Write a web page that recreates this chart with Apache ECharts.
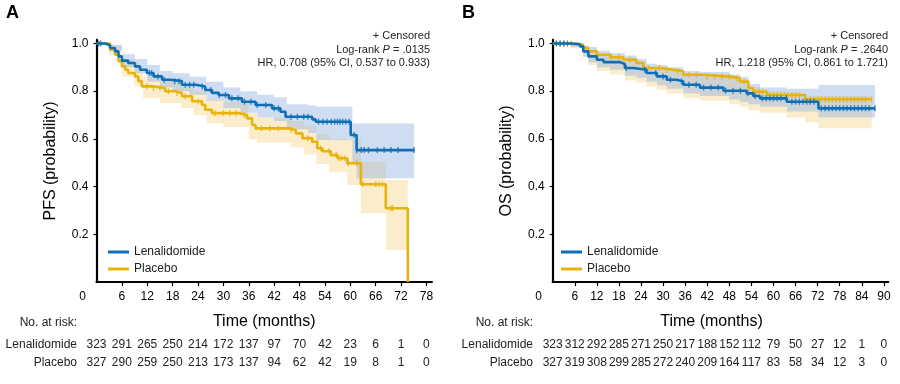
<!DOCTYPE html>
<html><head><meta charset="utf-8">
<script src="https://cdn.jsdelivr.net/npm/echarts@6/dist/echarts.min.js"></script>
<style>html,body{margin:0;padding:0;background:#fff}#c{width:900px;height:384px}</style>
</head><body><div id="c"></div>
<script>
// ---------- tick labels / months ----------
const monthsA = [0,6,12,18,24,30,36,42,48,54,60,66,72,78];
const monthsB = [0,6,12,18,24,30,36,42,48,54,60,66,72,78,84,90];
const yTicks = [0.2,0.4,0.6,0.8,1.0];
const groupNames = ['Lenalidomide', 'Placebo'];

// ---------- numbers at risk ----------
const riskA_lena = [323,291,265,250,214,172,137,97,70,42,23,6,1,0];
const riskA_plac = [327,290,259,250,213,173,137,94,62,42,19,8,1,0];
const riskB_lena = [323,312,292,285,271,250,217,188,152,112,79,50,27,12,1,0];
const riskB_plac = [327,319,308,299,285,272,240,209,164,117,83,58,34,12,3,0];

// ---------- PFS step curves [month, survival after step] ----------
const pfsLena = [[0,1.0],[2,0.993],[3.2,0.981],[4.4,0.967],[5.2,0.946],[6,0.928],[7.5,0.918],[9.1,0.904],[10.3,0.89],[11.9,0.876],[13.5,0.862],[15.5,0.848],[17.4,0.842],[20.2,0.827],[23.4,0.82],[25.7,0.805],[27.3,0.793],[28.9,0.784],[31.3,0.77],[34.4,0.756],[37.6,0.742],[41.5,0.728],[43.5,0.714],[44.7,0.693],[51,0.682],[51.8,0.672],[60.1,0.616],[61.5,0.553],[75.1,0.553]];
const pfsPlac = [[0,1.0],[3.2,0.974],[4.4,0.953],[5.2,0.925],[6,0.904],[6.8,0.89],[7.5,0.876],[9.1,0.862],[9.9,0.842],[10.7,0.82],[13.1,0.813],[16.2,0.80],[18.6,0.792],[20.2,0.779],[22.6,0.758],[24.9,0.743],[25.7,0.722],[27.3,0.708],[33.6,0.70],[35.6,0.686],[36.8,0.658],[37.6,0.644],[45.5,0.637],[47.1,0.623],[48.7,0.603],[51,0.588],[52.2,0.561],[53.4,0.548],[55.4,0.532],[57,0.519],[59.3,0.498],[62.5,0.41],[68.4,0.309],[73.6,0]];
// PFS confidence bands [month, lower, upper]
const pfsLenaCI = [[0,1,1],[3,0.97,0.995],[6,0.90,0.955],[9,0.875,0.935],[12,0.84,0.91],[15,0.815,0.885],[18,0.80,0.875],[22,0.785,0.86],[26,0.76,0.84],[30,0.73,0.815],[34,0.71,0.80],[38,0.69,0.785],[42,0.675,0.775],[45,0.64,0.745],[50,0.625,0.74],[52,0.595,0.735],[60.5,0.50,0.665],[61.5,0.435,0.665],[75.1,0.435,0.665]];
const pfsPlacCI = [[0,1,1],[3,0.95,0.99],[6,0.86,0.935],[9,0.82,0.90],[11,0.77,0.86],[15,0.75,0.84],[20,0.73,0.82],[23,0.70,0.80],[26,0.665,0.765],[30,0.65,0.755],[36,0.60,0.71],[38,0.585,0.69],[46,0.565,0.675],[49,0.535,0.655],[52,0.495,0.62],[55,0.46,0.60],[59.3,0.407,0.595],[62.5,0.288,0.504],[68.4,0.134,0.428],[73.6,0.134,0.428]];
// PFS censor times (months)
const pfsLenaCens = [0.5,1,12.5,13,14.5,16,18.5,19.5,21,22,23,25,27,29,30.5,32,33.5,35,36.5,38,40,42,43,46,47.5,49,50,52.5,53.5,54.5,55.5,56.3,57,57.6,58.2,58.9,59.7,60.9,61.5,62.6,63.3,64.3,66.4,68,69.6,71.3,75.1];
const pfsPlacCens = [12,13.5,15,17,19,21,24,28,30,31.5,33,35,39,41,43,46,50,53,55,56.7,57.2,57.8,58.7,59.5,61.5,63,66,66.8,67.6,69.6,70];

// ---------- OS step curves ----------
const osLena = [[0,1],[4.7,0.997],[7.4,0.988],[8.3,0.967],[9.7,0.946],[12,0.932],[13.8,0.922],[18.3,0.914],[19.6,0.897],[21.9,0.89],[25.5,0.876],[28.3,0.862],[31,0.848],[33.7,0.841],[35.5,0.827],[40,0.815],[46.4,0.802],[52.7,0.791],[54.5,0.78],[56.3,0.77],[63.6,0.756],[72.2,0.728],[87.6,0.728]];
const osPlac = [[0,1],[6.5,0.995],[8.3,0.981],[9.7,0.967],[12,0.953],[15.6,0.942],[19.2,0.932],[22.8,0.918],[24.6,0.897],[29.2,0.89],[32.8,0.883],[35.5,0.869],[40.9,0.861],[48.2,0.854],[50.9,0.84],[53.2,0.812],[54.5,0.798],[58.2,0.784],[68.6,0.766],[86.7,0.766]];
const osLenaCI = [[0,1,1],[5,0.985,1.0],[8.3,0.945,0.99],[9.7,0.92,0.985],[12,0.90,0.97],[15.6,0.89,0.96],[19.6,0.865,0.95],[22.8,0.855,0.935],[25.5,0.84,0.915],[28.3,0.825,0.91],[31,0.81,0.90],[35.5,0.79,0.885],[40,0.78,0.88],[48,0.765,0.87],[50.9,0.755,0.86],[53.2,0.745,0.83],[56.3,0.735,0.815],[63.6,0.715,0.81],[72.2,0.69,0.826],[87.6,0.69,0.826]];
const osPlacCI = [[0,1,1],[5,0.98,1.0],[8.3,0.94,0.99],[9.7,0.91,0.975],[12,0.885,0.96],[15.6,0.87,0.95],[19.6,0.845,0.94],[22.8,0.835,0.925],[25.5,0.82,0.90],[28.3,0.805,0.895],[31,0.79,0.89],[35.5,0.77,0.875],[40,0.76,0.87],[48,0.745,0.86],[50.9,0.735,0.85],[53.2,0.72,0.82],[56.3,0.71,0.80],[63.6,0.69,0.79],[68.6,0.67,0.78],[72.2,0.645,0.78],[86.7,0.645,0.78]];
const osLenaCens = [1,2,3,4,20,25,28,30,32,35,37,39,41,43,45,47,49,51,53,55,57,58,59,60,61,62,63.5,65,66,67,68,69,70,71,73,74,75,76,77,78,79,80,81,82,83,84,85,86,87.6];
const osPlacCens = [1,2,3,5,16,18,21,26,29,31,34,37,39,42,44,46,48,50,52,56,57,59,60,61,62,63,64,65,66,67,70,71,72,73,74,75,76,77,78,79,80,81,82,83,84,85,86.7];

// ---------- styling ----------
const FONT = 'Liberation Sans, Arial, sans-serif';
const BLUE = '#0f6fb6', YELLOW = '#e8b30c';
const BLUE_BAND = 'rgba(140,175,225,0.42)', YELLOW_BAND = 'rgba(245,212,130,0.42)';

function survAt(curve, t) {
  let s = curve[0][1];
  for (const p of curve) { if (p[0] <= t) s = p[1]; else break; }
  return s;
}
function bandSeries(ci, xi, yi, color) {
  return {
    type: 'custom', xAxisIndex: xi, yAxisIndex: yi, data: ci, silent: true, clip: true, z: 1,
    renderItem: function (params, api) {
      if (params.dataIndex !== 0) return null;
      const top = [], bot = [];
      for (let i = 0; i < ci.length; i++) {
        const t0 = ci[i][0], t1 = i + 1 < ci.length ? ci[i + 1][0] : ci[i][0];
        top.push(api.coord([t0, ci[i][2]]), api.coord([t1, ci[i][2]]));
        bot.push(api.coord([t0, ci[i][1]]), api.coord([t1, ci[i][1]]));
      }
      return { type: 'polygon', shape: { points: top.concat(bot.reverse()) }, style: { fill: color } };
    }
  };
}
function lineSeries(name, curve, xi, yi, color, z) {
  return { type: 'line', name: name, xAxisIndex: xi, yAxisIndex: yi, data: curve, step: 'end',
    showSymbol: false, symbol: 'none', lineStyle: { width: 2.6, color: color }, itemStyle: { color: color },
    z: z, silent: true };
}
function censorSeries(curve, times, xi, yi, color, z) {
  return { type: 'scatter', name: 'cens', xAxisIndex: xi, yAxisIndex: yi,
    data: times.map(t => [t, survAt(curve, t)]), symbol: 'rect', symbolSize: [1.4, 6],
    itemStyle: { color: color }, z: z, silent: true };
}
function mainX(grid, max, months, namePad) {
  return { type: 'value', gridIndex: grid, min: 0, max: max, position: 'bottom',
    splitLine: { show: false },
    axisLine: { show: true, onZero: false, lineStyle: { color: '#000', width: 2.2 } },
    axisTick: { show: true, customValues: months.slice(1), length: 4, lineStyle: { color: '#000', width: 1.2 } },
    axisLabel: { customValues: months, margin: 9, fontSize: 12, color: '#000', fontFamily: FONT,
      formatter: v => v === 0 ? '{z|0}' : String(v),
      rich: { z: { padding: [0, 28, 0, 0], fontSize: 12, color: '#000', fontFamily: FONT } } },
    name: 'Time (months)', nameLocation: 'middle', nameGap: 32,
    nameTextStyle: { fontSize: 16, color: '#000', fontFamily: FONT, padding: namePad }
  };
}
function riskX(grid, max, months, risk, offset) {
  return { type: 'value', gridIndex: grid, min: 0, max: max, position: 'bottom', offset: offset,
    splitLine: { show: false }, axisLine: { show: false }, axisTick: { show: false },
    axisLabel: { customValues: months, margin: 0, verticalAlign: 'middle', fontSize: 12, color: '#222', fontFamily: FONT,
      formatter: v => String(risk[Math.round(v / 6)]) }
  };
}
function mainY(grid, name) {
  return { type: 'value', gridIndex: grid, min: 0, max: 1.015,
    splitLine: { show: false },
    axisLine: { show: true, onZero: false, lineStyle: { color: '#000', width: 2.2 } },
    axisTick: { show: true, customValues: yTicks, length: 3, lineStyle: { color: '#000', width: 1.2 } },
    axisLabel: { customValues: yTicks, margin: 8, fontSize: 12, color: '#000', fontFamily: FONT, formatter: v => v.toFixed(1) },
    name: name, nameLocation: 'middle', nameGap: 38,
    nameTextStyle: { fontSize: 16, color: '#000', fontFamily: FONT }
  };
}
function legend(left) {
  return { data: groupNames, orient: 'vertical', left: left, top: 245, padding: 0,
    icon: 'rect', itemWidth: 21, itemHeight: 3, itemGap: 3, selectedMode: false,
    textStyle: { fontSize: 12, color: '#222', fontFamily: FONT, lineHeight: 14 } };
}
function txt(x, y, text, extra) {
  return { type: 'text', x: x, y: y, style: Object.assign({ text: text, fontSize: 12, fill: '#222', fontFamily: FONT,
    align: 'right', verticalAlign: 'middle' }, extra || {}) };
}
function annot(x, p, hr) {
  const s = { fontSize: 11 };
  return [
    txt(x, 36, '+ Censored', s),
    txt(x, 50, 'Log-rank {i|P} = ' + p, { fontSize: 11,
      rich: { i: { fontStyle: 'italic', fontSize: 11, fontFamily: FONT, fill: '#222' } } }),
    txt(x, 63, hr, s)
  ];
}

const chart = echarts.init(document.getElementById('c'), null, { renderer: 'canvas' });
chart.setOption({
  animation: false,
  backgroundColor: '#fff',
  grid: [
    { left: 96.5, top: 39.9, width: 335.4, height: 242.1 },
    { left: 552.7, top: 39.9, width: 335.6, height: 242.1 }
  ],
  xAxis: [
    mainX(0, 79.3, monthsA, 0),
    riskX(0, 79.3, monthsA, riskA_lena, 62.5),
    riskX(0, 79.3, monthsA, riskA_plac, 80.5),
    mainX(1, 91.2, monthsB, [0, 18, 0, 0]),
    riskX(1, 91.2, monthsB, riskB_lena, 62.5),
    riskX(1, 91.2, monthsB, riskB_plac, 80.5)
  ],
  yAxis: [ mainY(0, 'PFS (probability)'), mainY(1, 'OS (probability)') ],
  legend: [ legend(108), legend(561) ],
  graphic: [
    { type: 'text', x: 6, y: 4, style: { text: 'A', fontSize: 18, fontWeight: 'bold', fill: '#000', fontFamily: FONT } },
    { type: 'text', x: 462, y: 4, style: { text: 'B', fontSize: 18, fontWeight: 'bold', fill: '#000', fontFamily: FONT } },
    txt(77, 323, 'No. at risk:'), txt(77, 345, groupNames[0]), txt(77, 363, groupNames[1]),
    txt(533, 323, 'No. at risk:'), txt(533, 345, groupNames[0]), txt(533, 363, groupNames[1])
  ].concat(annot(430, '.0135', 'HR, 0.708 (95% CI, 0.537 to 0.933)'))
   .concat(annot(888, '.2640', 'HR, 1.218 (95% CI, 0.861 to 1.721)')),
  series: [
    bandSeries(pfsPlacCI, 0, 0, YELLOW_BAND),
    bandSeries(pfsLenaCI, 0, 0, BLUE_BAND),
    lineSeries('Placebo', pfsPlac, 0, 0, YELLOW, 3),
    lineSeries('Lenalidomide', pfsLena, 0, 0, BLUE, 4),
    censorSeries(pfsPlac, pfsPlacCens, 0, 0, YELLOW, 3),
    censorSeries(pfsLena, pfsLenaCens, 0, 0, BLUE, 4),
    bandSeries(osPlacCI, 3, 1, YELLOW_BAND),
    bandSeries(osLenaCI, 3, 1, BLUE_BAND),
    lineSeries('Placebo', osPlac, 3, 1, YELLOW, 3),
    lineSeries('Lenalidomide', osLena, 3, 1, BLUE, 4),
    censorSeries(osPlac, osPlacCens, 3, 1, YELLOW, 3),
    censorSeries(osLena, osLenaCens, 3, 1, BLUE, 4)
  ]
});
</script>
</body></html>
